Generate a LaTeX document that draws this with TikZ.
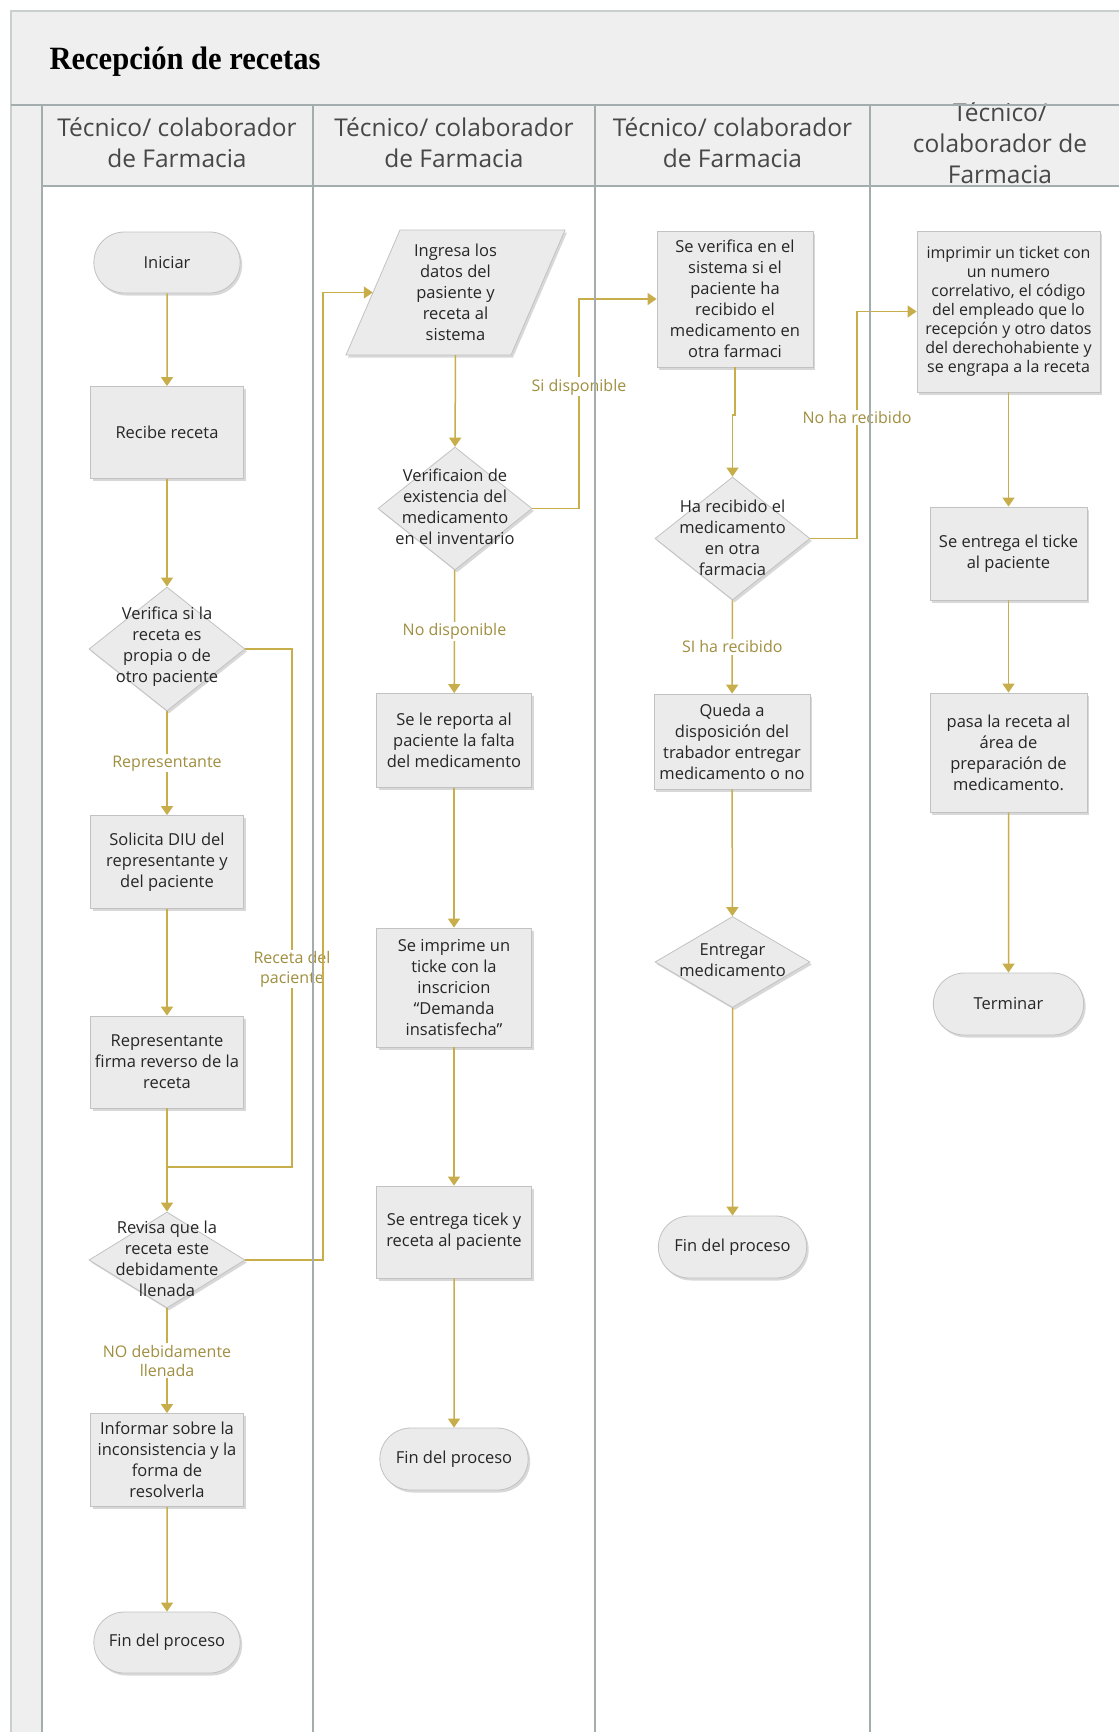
\documentclass[tikz,border=0pt]{standalone}
\usepackage{fontspec}
\setmainfont{Open Sans}
\newfontfamily\titlefont[FakeStretch=0.94]{Liberation Serif}
\usetikzlibrary{arrows.meta,shapes.geometric,shapes.misc,shadows}

\definecolor{flowcol}{HTML}{C8AE4A}
\definecolor{lblcol}{HTML}{A08F40}
\definecolor{boxfill}{HTML}{EBEBEB}
\definecolor{boxline}{HTML}{C2C2C2}
\definecolor{lanefill}{HTML}{EFEFEF}
\definecolor{laneline}{HTML}{A3ADAE}
\definecolor{outerline}{HTML}{C9CFCF}
\definecolor{txt}{HTML}{262626}

\tikzset{
  shp/.style={fill=boxfill, draw=boxline, line width=0.8pt,
    drop shadow={shadow xshift=2pt, shadow yshift=-2.5pt, opacity=0.3}},
  txtfont/.style={font=\fontsize{16.5}{21}\selectfont, text=txt, align=center},
  proc/.style={shp, txtfont, rectangle, minimum width=153pt, minimum height=92pt, inner sep=2pt},
  stadium/.style={shp, txtfont, rounded rectangle, minimum width=153pt, minimum height=61pt},
  decis/.style={shp, diamond, minimum width=155pt, minimum height=123pt, inner sep=0pt},
  dtext/.style={txtfont, inner sep=0pt},
  flow/.style={draw=flowcol, line width=1.5pt, -{Triangle[width=12pt,length=9pt]}},
  link/.style={draw=flowcol, line width=1.5pt},
  lbl/.style={font=\fontsize{16}{19.5}\selectfont, text=lblcol, fill=white, inner sep=1.5pt, align=center},
  hdr/.style={font=\fontsize{24.5}{31}\selectfont, text=black!72, align=center},
  sep/.style={draw=laneline, line width=2.2pt},
}

\begin{document}
\begin{tikzpicture}[x=1pt,y=-1pt]
\useasboundingbox (0,0) rectangle (1119,1732);
\clip (0,0) rectangle (1119,1732);

% pool, header row and lanes
\fill[lanefill] (11,11) rectangle (1119,105);
\fill[lanefill] (11,105) rectangle (42,1732);
\fill[lanefill] (42,105) rectangle (1119,185.6);
\fill[white] (42,185.6) rectangle (1119,1732);
\draw[outerline, line width=1.2pt] (11,1732) -- (11,11) -- (1119,11);

\node[anchor=west, font=\titlefont\bfseries\fontsize{32.5}{36}\selectfont] (title) at (46,62) {Recepción de recetas};

\node[hdr] (h1) at (177,142.5) {Técnico/ colaborador\\de Farmacia};
\node[hdr] (h2) at (454,142.5) {Técnico/ colaborador\\de Farmacia};
\node[hdr] (h3) at (732.5,142.5) {Técnico/ colaborador\\de Farmacia};
\node[hdr] (h4) at (1000,143.6) {Técnico/\\colaborador de\\Farmacia};

% ---- lane 1
\node[stadium] (ini) at (167,262.5) {Iniciar};
\node[proc] (rec) at (167,432.5) {Recibe receta};
\node[decis, minimum width=156pt, minimum height=124pt] (ver) at (167,649) {};
\node[dtext] (vert) at (167,647) {Verifica si la\\receta es\\propia o de\\otro paciente};
\node[proc, minimum height=93pt] (sol) at (167,862) {Solicita DIU del\\representante y\\del paciente};
\node[proc] (fir) at (167,1062) {Representante\\firma reverso de la\\receta};
\node[decis, minimum width=156pt, minimum height=96pt] (rev) at (167,1260) {};
\node[dtext] (revt) at (167,1258.5) {Revisa que la\\receta este\\debidamente\\llenada};
\node[proc, minimum height=93pt] (inf) at (167,1460) {Informar sobre la\\inconsistencia y la\\forma de\\resolverla};
\node[stadium] (fin1) at (167,1642.5) {Fin del proceso};

% ---- lane 2
\coordinate (ingc) at (455.5,292.5);
\path[shp] ([shift={(-55.5,-62.5)}]ingc) -- ([shift={(109.5,-62.5)}]ingc)
  -- ([shift={(55.5,62.5)}]ingc) -- ([shift={(-109.5,62.5)}]ingc) -- cycle;
\node[txtfont, minimum width=165pt, minimum height=125pt, inner sep=0pt] (ing) at (ingc)
  {Ingresa los\\datos del\\pasiente y\\receta al\\sistema};
\node[decis, minimum width=154pt] (ver2) at (455,508.5) {};
\node[dtext] (ver2t) at (455,506.5) {Verificaion de\\existencia del\\medicamento\\en el inventario};
\node[proc, minimum width=155pt, minimum height=94pt] (rep) at (454,740.5) {Se le reporta al\\paciente la falta\\del medicamento};
\node[proc, minimum width=155pt, minimum height=119pt] (imp) at (454,987.5) {Se imprime un\\ticke con la\\inscricion\\“Demanda\\insatisfecha”};
\node[proc, minimum width=155pt] (ent) at (454,1232) {Se entrega ticek y\\receta al paciente};
\node[stadium, minimum width=155pt, minimum height=62pt] (fin2) at (454,1459) {Fin del proceso};

% ---- lane 3
\node[proc, minimum width=156pt, minimum height=136pt] (sv) at (735,299) {Se verifica en el\\sistema si el\\paciente ha\\recibido el\\medicamento en\\otra farmaci};
\node[decis] (ha) at (732.5,538.5) {};
\node[dtext] (hat) at (732.5,538) {Ha recibido el\\medicamento\\en otra\\farmacia};
\node[proc, minimum width=156pt, minimum height=95pt] (que) at (732,741.5) {Queda a\\disposición del\\trabador entregar\\medicamento o no};
\node[decis, minimum height=91pt] (entr) at (732.5,962) {};
\node[dtext] (entrt) at (732.5,960.5) {Entregar\\medicamento};
\node[stadium, minimum width=155pt, minimum height=62pt] (fin3) at (732.5,1247) {Fin del proceso};

% ---- lane 4
\node[proc, minimum width=183pt, minimum height=161pt, font=\fontsize{16}{18.9}\selectfont] (imp4) at (1008.5,311.5)
  {imprimir un ticket con\\un numero\\correlativo, el código\\del empleado que lo\\recepción y otro datos\\del derechohabiente y\\se engrapa a la receta};
\node[proc, minimum width=157pt, minimum height=93pt] (tk) at (1008.5,553.5) {Se entrega el ticke\\al paciente};
\node[proc, minimum width=157pt, minimum height=119pt] (pasa) at (1008.5,752.5) {pasa la receta al\\área de\\preparación de\\medicamento.};
\node[stadium, minimum width=157pt, minimum height=62pt] (fin4) at (1008.5,1004) {Terminar};

% ---- connectors, lane 1
\draw[flow] (ini) -- (rec);
\draw[flow] (rec) -- (ver);
\draw[flow] (ver) -- node[lbl]{Representante} (sol);
\draw[flow] (sol) -- (fir);
\draw[flow] (fir) -- (rev);
\coordinate (rb) at (292,1167);
\draw[link] (ver.east) -| node[lbl,pos=0.809]{Receta del\\paciente} (rb) -- (rb -| fir.south);
\draw[flow] (rev) -- node[lbl]{NO debidamente\\llenada} (inf);
\draw[flow] (inf) -- (fin1);
\coordinate (xl) at (323,0);
\draw[flow] (rev.east) -- (rev.east -| xl) |- (ing.west);

% ---- connectors, lane 2
\draw[flow] (ing) -- (ver2);
\coordinate (xs) at (579,0);
\draw[flow] (ver2.east) -- (ver2.east -| xs) |- node[lbl,pos=0.29]{Si disponible} (sv.west);
\draw[flow] (ver2) -- node[lbl]{No disponible} (rep);
\draw[flow] (rep) -- (imp);
\draw[flow] (imp) -- (ent);
\draw[flow] (ent) -- (fin2);

% ---- connectors, lane 3
\coordinate (j3) at (732.5,415);
\draw[flow] (sv.south) |- (j3) -- (ha.north);
\coordinate (xn) at (857,0);
\draw[flow] (ha.east) -- (ha.east -| xn) |- node[lbl,pos=0.267]{No ha recibido} (imp4.west);
\draw[flow] (ha) -- node[lbl]{SI ha recibido} (que);
\draw[flow] (que) -- (entr);
\draw[flow] (entr) -- (fin3);

% ---- connectors, lane 4
\draw[flow] (imp4) -- (tk);
\draw[flow] (tk) -- (pasa);
\draw[flow] (pasa) -- (fin4);

% lane borders on top
\draw[sep] (11,105) -- (1119,105);
\draw[sep] (42,185.6) -- (1119,185.6);
\foreach \x in {42,312.6,595,870} \draw[sep] (\x,105) -- (\x,1732);
\end{tikzpicture}
\end{document}
